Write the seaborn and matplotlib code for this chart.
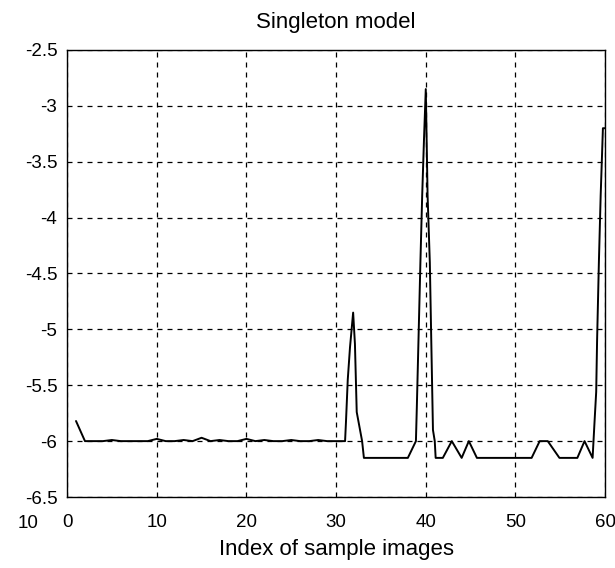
import matplotlib
matplotlib.use("Agg")
import matplotlib.pyplot as plt
import seaborn as sns
import pandas as pd

# ---- data ----
x_flat = [1, 2, 3, 4, 5, 6, 7, 8, 9, 10, 11, 12, 13, 14, 15, 16, 17, 18, 19, 20,
          21, 22, 23, 24, 25, 26, 27, 28, 29, 30, 31]
y_flat = [-5.82, -6.0, -6.0, -6.0, -5.99, -6.0, -6.0, -6.0, -6.0, -5.98, -6.0, -6.0,
          -5.99, -6.0, -5.97, -6.0, -5.99, -6.0, -6.0, -5.98, -6.0, -5.99, -6.0, -6.0,
          -5.99, -6.0, -6.0, -5.99, -6.0, -6.0, -6.0]

x_rest = [31.1, 31.3, 31.55, 31.9, 32.1, 32.3, 32.9, 33.1, 38.0, 38.9,
          39.0, 39.2, 39.4, 39.6, 39.8, 40.0, 40.2, 40.45, 40.6, 40.8, 41.0, 41.1,
          41.9, 42.9, 44.0, 44.8, 45.7, 51.8, 52.7, 53.6, 54.9, 56.9, 57.7, 58.6,
          58.8, 59.0, 59.1, 59.3, 59.5, 59.75, 60.0]
y_rest = [-5.83, -5.45, -5.16, -4.85, -5.13, -5.74, -6.0, -6.15, -6.15, -6.0,
          -5.7, -5.05, -4.4, -3.8, -3.3, -2.85, -3.8, -4.4, -5.05, -5.9, -6.0, -6.15,
          -6.15, -6.0, -6.15, -6.0, -6.15, -6.15, -6.0, -6.0, -6.15, -6.15, -6.0, -6.15,
          -5.85, -5.56, -5.1, -4.4, -3.8, -3.2, -3.2]

x_ticks = [0, 10, 20, 30, 40, 50, 60]
y_ticks = [-6.5, -6, -5.5, -5, -4.5, -4, -3.5, -3, -2.5]
y_tick_labels = ["-6.5", "-6", "-5.5", "-5", "-4.5", "-4", "-3.5", "-3", "-2.5"]

df = pd.DataFrame({"index": x_flat + x_rest, "value": y_flat + y_rest})

sns.set_theme(style="white")
plt.rcParams["font.family"] = ["Liberation Sans", "DejaVu Sans"]

fig = plt.figure(figsize=(6.15, 5.68), dpi=100)
ax = fig.add_axes([0.109, 0.125, 0.875, 0.787])

sns.lineplot(data=df, x="index", y="value", estimator=None, sort=False,
             color="black", linewidth=1.4, ax=ax)

ax.set_xlim(0, 60)
ax.set_ylim(-6.5, -2.5)
ax.set_xticks(x_ticks)
ax.set_xticklabels([str(t) for t in x_ticks], fontsize=13.5)
ax.set_yticks(y_ticks)
ax.set_yticklabels(y_tick_labels, fontsize=13.5)
ax.grid(True, color="black", linestyle=(0, (4, 4)), linewidth=0.9)
ax.set_axisbelow(True)
for s in ax.spines.values():
    s.set_color("black")
    s.set_linewidth(1.0)
ax.tick_params(axis="both", which="both", direction="in", length=5, color="black",
               labelcolor="black")
ax.tick_params(axis="x", pad=12)
ax.tick_params(axis="y", pad=7)
ax.set_title("Singleton model", fontsize=16, color="black", pad=16)
ax.set_xlabel("Index of sample images", fontsize=16, color="black", labelpad=6)
ax.set_ylabel("")
fig.text(0.045, 0.078, "10", fontsize=13.5, color="black", ha="center", va="center")

fig.savefig("out.png", dpi=100, facecolor="white")
